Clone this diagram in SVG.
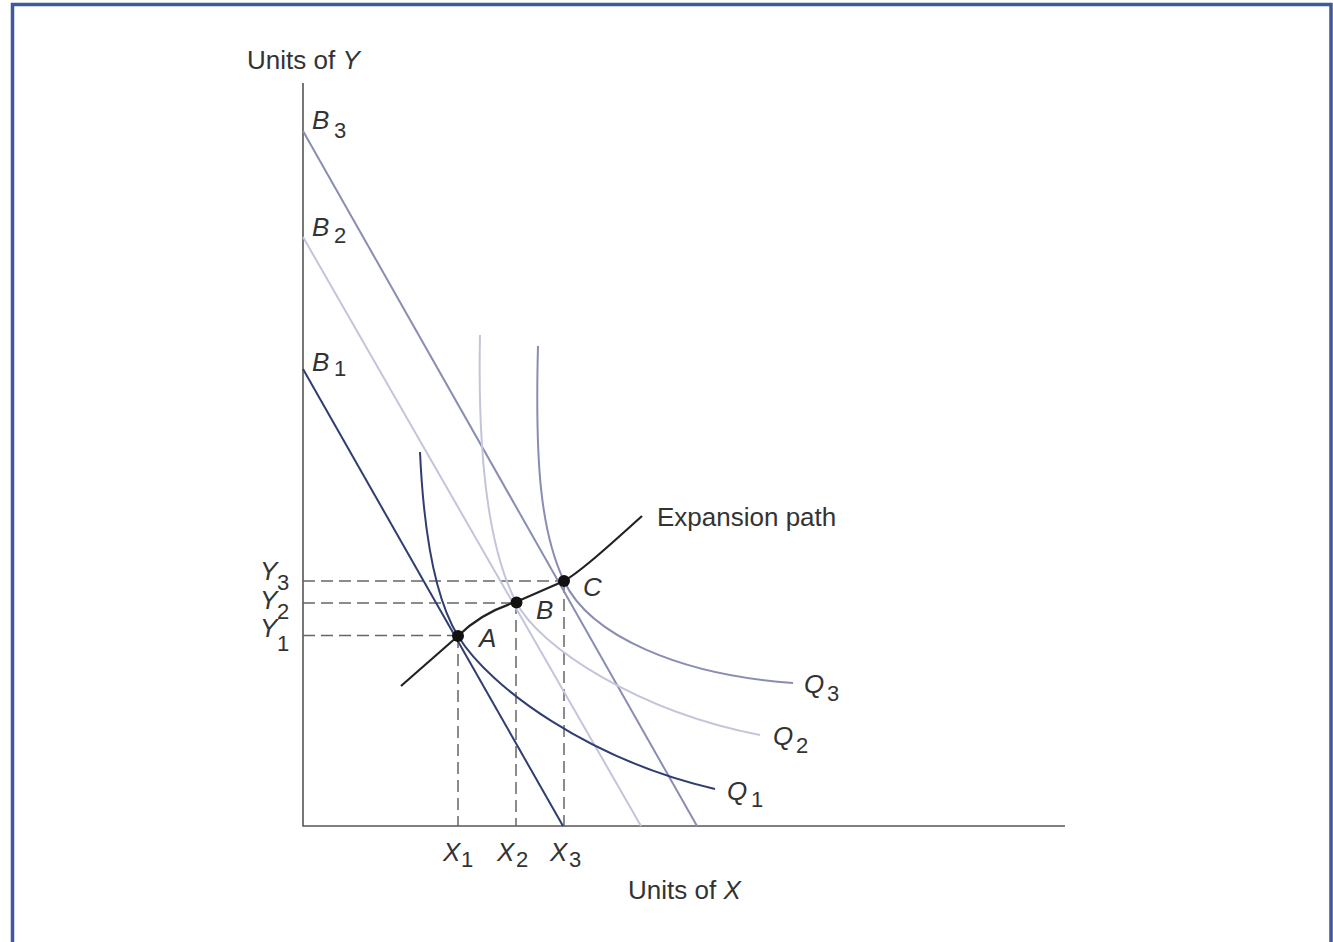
<svg xmlns="http://www.w3.org/2000/svg" width="1333" height="942" viewBox="0 0 1333 942">
<style>
.t{font-family:"Liberation Sans",Arial,sans-serif;fill:#333;}
.lbl{font-size:26px;font-style:italic;}
.sub{font-size:22px;font-style:normal;}
.ttl{font-size:26px;}
.axis{stroke:#555;stroke-width:1.6;fill:none;}
.dash{stroke:#666;stroke-width:1.5;stroke-dasharray:12 6;fill:none;}
.c1{stroke:#2f3d70;stroke-width:2;fill:none;}
.c2{stroke:#c3c5da;stroke-width:2;fill:none;}
.c3{stroke:#8a8db3;stroke-width:2;fill:none;}
.exp{stroke:#222;stroke-width:2.2;fill:none;}
</style>
<rect x="0" y="0" width="1333" height="942" fill="#fff"/>
<path d="M12.5,942 V4.5 H1331 V942" fill="none" stroke="#3d5a9a" stroke-width="3.5"/>
<g id="axes">
<path class="axis" d="M303,83 V826 H1065"/>
<text class="t ttl" x="247" y="69">Units of <tspan font-style="italic">Y</tspan></text>
<text class="t ttl" x="628" y="899">Units of <tspan font-style="italic">X</tspan></text>
</g>
<g id="dashes">
<path class="dash" d="M303,581 H564 M303,603 H516 M303,635.5 H458 M458,636 V826 M516,602 V826 M564,581 V826"/>
</g>
<g id="budget-lines">
<line id="B3" class="c3" x1="303" y1="131" x2="697" y2="826"/>
<line id="B2" class="c2" x1="303" y1="237" x2="641" y2="826"/>
<line id="B1" class="c1" x1="303" y1="369" x2="563" y2="826"/>
</g>
<g id="isoquants">
<path id="Q1" class="c1" d="M420,452 C424,540 436,600 458,636 C490,688 590,760 715,789"/>
<path id="Q2" class="c2" d="M480,335 C478,430 484,540 516,602 C540,648 640,712 760,735"/>
<path id="Q3" class="c3" d="M538,346 C535,460 540,530 564,581 C590,636 680,675 793,683"/>
</g>
<g id="expansion-path">
<path class="exp" d="M401,686 L458,636 C472,622 490,610 516,602 L564,581 C580,572 610,545 642,516"/>
</g>
<g id="points">
<circle id="A" cx="458" cy="636" r="6" fill="#111"/>
<circle id="B" cx="516.5" cy="602.5" r="6" fill="#111"/>
<circle id="C" cx="564" cy="581" r="6" fill="#111"/>
</g>
<g id="labels">
<text class="t lbl" x="312" y="129">B<tspan class="sub" x="334" y="138">3</tspan></text>
<text class="t lbl" x="312" y="236">B<tspan class="sub" x="334" y="243">2</tspan></text>
<text class="t lbl" x="312" y="371">B<tspan class="sub" x="334" y="376">1</tspan></text>
<text class="t lbl" x="260" y="580">Y<tspan class="sub" x="277" y="590">3</tspan></text>
<text class="t lbl" x="260" y="609">Y<tspan class="sub" x="277" y="619">2</tspan></text>
<text class="t lbl" x="260" y="637">Y<tspan class="sub" x="277" y="651">1</tspan></text>
<text class="t lbl" x="443" y="861">X<tspan class="sub" x="461" y="867">1</tspan></text>
<text class="t lbl" x="497" y="861">X<tspan class="sub" x="516" y="867">2</tspan></text>
<text class="t lbl" x="550" y="861">X<tspan class="sub" x="569" y="867">3</tspan></text>
<text class="t lbl" x="479" y="647">A</text>
<text class="t lbl" x="536" y="619">B</text>
<text class="t lbl" x="583" y="596">C</text>
<text class="t lbl" x="804" y="693">Q<tspan class="sub" x="827" y="701">3</tspan></text>
<text class="t lbl" x="773" y="745">Q<tspan class="sub" x="796" y="753">2</tspan></text>
<text class="t lbl" x="727" y="800">Q<tspan class="sub" x="751" y="807">1</tspan></text>
<text class="t ttl" x="657" y="526">Expansion path</text>
</g>
</svg>
